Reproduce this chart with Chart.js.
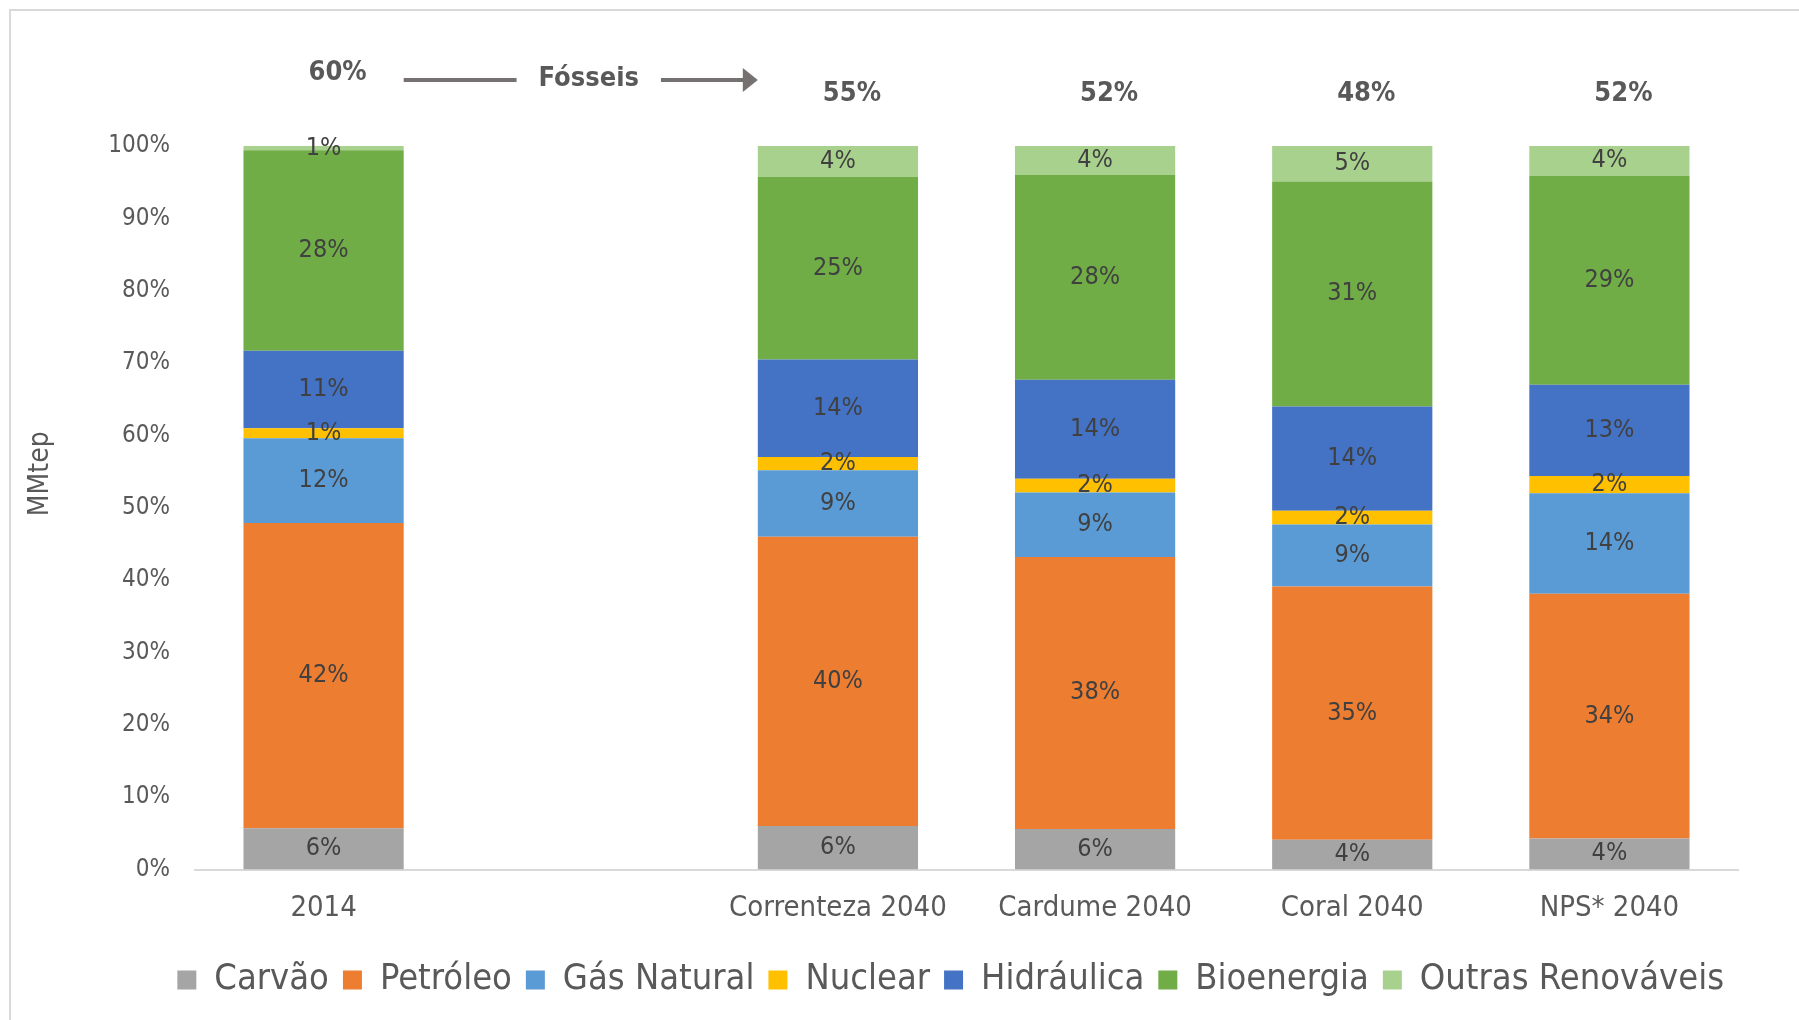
<!DOCTYPE html>
<html>
<head>
<meta charset="utf-8">
<script src="https://cdn.jsdelivr.net/npm/chart.js@4.4.0/dist/chart.umd.min.js"></script>
<style>
  body { margin: 0; background: #fff; overflow: hidden; }
  #frame { position: absolute; left: 9px; top: 9px; width: 1800px; height: 1020px;
           border-left: 2px solid #d9d9d9; border-top: 2px solid #d9d9d9; }
  canvas { position: absolute; left: 0; top: 0; }
</style>
</head>
<body>
<div id="frame"></div>
<canvas id="chart" width="1799" height="1020"></canvas>
<script>
// Categories (the blank one leaves the gap after 2014)
const categories = ['2014', '', 'Correnteza 2040', 'Cardume 2040', 'Coral 2040', 'NPS* 2040'];

// Shares of primary energy, %
const carvao     = [5.7,  null, 6.0,  5.6,  4.1,  4.3];
const petroleo   = [42.2, null, 40.0, 37.6, 35.0, 33.8];
const gasNatural = [11.7, null, 9.2,  8.9,  8.6,  13.9];
const nuclear    = [1.4,  null, 1.8,  1.9,  1.9,  2.4];
const hidraulica = [10.7, null, 13.5, 13.7, 14.4, 12.6];
const bioenergia = [27.7, null, 25.2, 28.3, 31.1, 28.9];
const outras     = [0.6,  null, 4.3,  4.0,  4.9,  4.1];

// Fossil totals shown above the bars
const fossilShare = [60, null, 55, 52, 48, 52];
const fossilLabel = 'Fósseis';

const yTicks = [0, 10, 20, 30, 40, 50, 60, 70, 80, 90, 100];

const FONT = "'DejaVu Sans Condensed', 'Liberation Sans', sans-serif";

const series = [
  { label: 'Carvão',            data: carvao,     color: '#A5A5A5' },
  { label: 'Petróleo',          data: petroleo,   color: '#ED7D31' },
  { label: 'Gás Natural',       data: gasNatural, color: '#5B9BD5' },
  { label: 'Nuclear',           data: nuclear,    color: '#FFC000' },
  { label: 'Hidráulica',        data: hidraulica, color: '#4472C4' },
  { label: 'Bioenergia',        data: bioenergia, color: '#70AD47' },
  { label: 'Outras Renováveis', data: outras,     color: '#A9D18E' }
];

// percentage inside each segment
const segmentLabels = {
  id: 'segmentLabels',
  afterDatasetsDraw(chart) {
    const ctx = chart.ctx;
    ctx.save();
    ctx.font = '25px ' + FONT;
    ctx.fillStyle = '#404040';
    ctx.textAlign = 'center';
    ctx.textBaseline = 'middle';
    chart.data.datasets.forEach((ds, di) => {
      chart.getDatasetMeta(di).data.forEach((bar, i) => {
        const v = ds.data[i];
        if (v == null) return;
        ctx.fillText(Math.round(v) + '%', bar.x, (bar.y + bar.base) / 2);
      });
    });
    ctx.restore();
  }
};

// fossil totals, the arrow and the axis title
const fossilNotes = {
  id: 'fossilNotes',
  afterDraw(chart) {
    const ctx = chart.ctx;
    const area = chart.chartArea;
    const top = area.top;
    const bars = chart.getDatasetMeta(0).data;
    ctx.save();
    ctx.font = 'bold 27px ' + FONT;
    ctx.fillStyle = '#595959';
    ctx.textAlign = 'center';
    ctx.textBaseline = 'middle';
    fossilShare.forEach((v, i) => {
      if (v == null) return;
      ctx.fillText(v + '%', bars[i].x + 14, i === 0 ? top - 73 : top - 52);
    });

    const x0 = bars[0].x + bars[0].width / 2;
    const x1 = bars[2].x - bars[2].width / 2;
    const mid = (x0 + x1) / 2 + 8;
    const ya = top - 66;
    ctx.fillText(fossilLabel, mid, ya - 1);
    const tw = ctx.measureText(fossilLabel).width;
    ctx.strokeStyle = '#767171';
    ctx.fillStyle = '#767171';
    ctx.lineWidth = 4;
    ctx.beginPath();
    ctx.moveTo(x0, ya); ctx.lineTo(mid - tw / 2 - 22, ya);
    ctx.moveTo(mid + tw / 2 + 22, ya); ctx.lineTo(x1 - 12, ya);
    ctx.stroke();
    ctx.beginPath();
    ctx.moveTo(x1, ya); ctx.lineTo(x1 - 15, ya - 12); ctx.lineTo(x1 - 15, ya + 12);
    ctx.closePath(); ctx.fill();

    // y axis title
    ctx.translate(41, (area.top + area.bottom) / 2 - 34);
    ctx.rotate(-Math.PI / 2);
    ctx.font = '28px ' + FONT;
    ctx.fillStyle = '#595959';
    ctx.fillText('MMtep', 0, 0);
    ctx.restore();
  }
};

new Chart(document.getElementById('chart'), {
  type: 'bar',
  data: {
    labels: categories,
    datasets: series.map(s => ({
      label: s.label,
      data: s.data,
      backgroundColor: s.color,
      categoryPercentage: 1,
      barPercentage: 0.623
    }))
  },
  options: {
    responsive: false,
    animation: false,
    layout: { padding: { top: 146, right: 61, left: 0, bottom: 12 } },
    plugins: {
      legend: {
        position: 'bottom',
        align: 'end',
        labels: { boxWidth: 19, boxHeight: 19, padding: 14, color: '#595959',
                  font: { size: 36, family: FONT } }
      },
      tooltip: { enabled: false }
    },
    scales: {
      x: {
        stacked: true,
        grid: { display: false, drawTicks: false },
        border: { color: '#d9d9d9', width: 2 },
        ticks: { color: '#595959', font: { size: 29, family: FONT }, padding: 22, maxRotation: 0 },
        afterFit: s => { s.height = 78.5; }
      },
      y: {
        stacked: true,
        min: 0, max: 100,
        afterBuildTicks: s => { s.ticks = yTicks.map(v => ({ value: v })); },
        ticks: { callback: v => v + '%', color: '#595959', font: { size: 24, family: FONT }, padding: 25 },
        grid: { display: false, drawTicks: false },
        border: { display: false },
        afterFit: s => { s.width = 195; }
      }
    }
  },
  plugins: [segmentLabels, fossilNotes]
});
</script>
</body>
</html>
